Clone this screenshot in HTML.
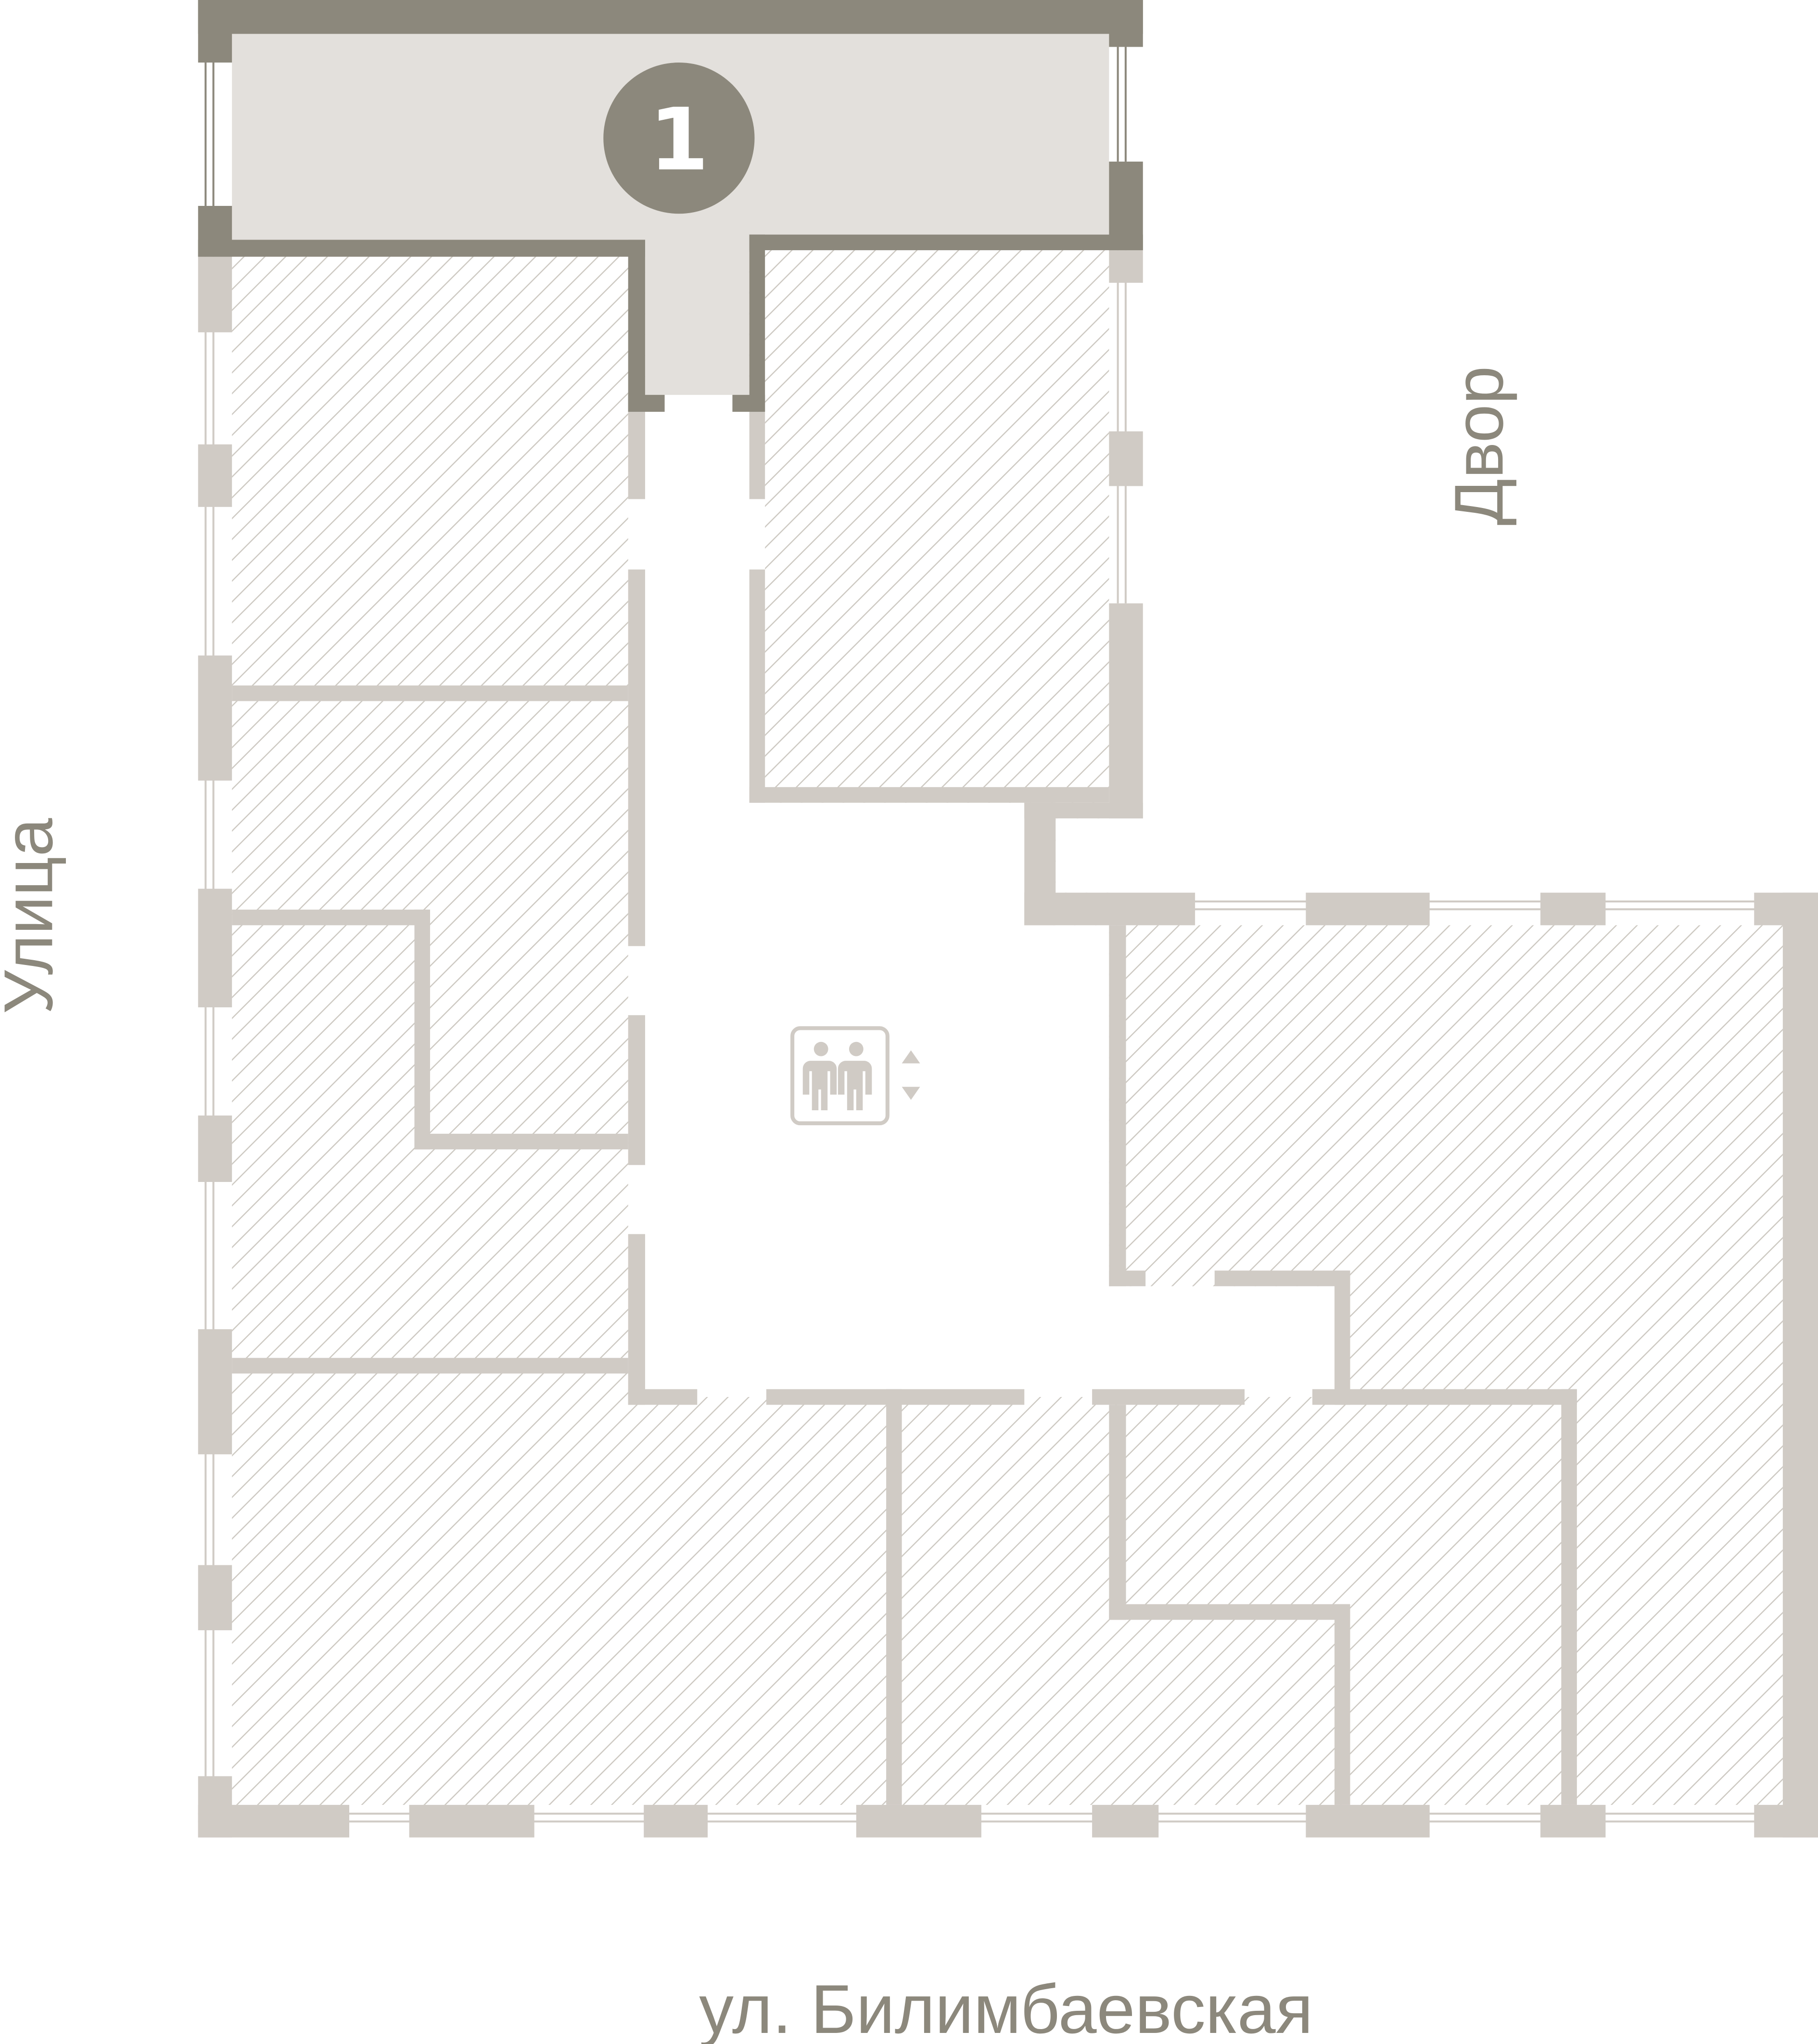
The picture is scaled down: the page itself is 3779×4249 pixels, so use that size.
<!DOCTYPE html>
<html><head><meta charset="utf-8"><style>
html,body{margin:0;padding:0;background:#fff;}
svg{display:block;}
</style></head><body>
<svg width="3779" height="4249" viewBox="0 0 1395 1568.5" preserveAspectRatio="none" xmlns="http://www.w3.org/2000/svg">
<defs>
<pattern id="h" patternUnits="userSpaceOnUse" width="11.3" height="11.3" patternTransform="rotate(45)">
<line x1="0" y1="-1" x2="0" y2="13" stroke="#cdc9c2" stroke-width="1.8"/>
</pattern>
</defs>
<rect width="1395" height="1568.5" fill="#fff"/>
<rect x="178" y="192" width="673" height="1193" fill="url(#h)"/>
<rect x="851" y="710" width="517" height="675" fill="url(#h)"/>
<polygon points="482,300 587,300 587,616 798,616 798,710 851,710 851,987 1030,987 1030,1072 482,1072" fill="#fff"/>
<rect x="810" y="628" width="67" height="57" fill="#fff"/>
<g fill="#d0cbc5">
<rect x="157" y="197" width="1.5" height="1188"/><rect x="163" y="197" width="1.5" height="1188"/>
<rect x="152" y="197" width="26" height="58"/><rect x="152" y="341" width="26" height="48"/>
<rect x="152" y="503" width="26" height="96"/><rect x="152" y="682" width="26" height="91"/>
<rect x="152" y="856" width="26" height="51"/><rect x="152" y="1020" width="26" height="96"/>
<rect x="152" y="1201" width="26" height="50"/><rect x="152" y="1363" width="26" height="47"/>
<rect x="152" y="1391" width="1243" height="1.5"/><rect x="152" y="1397" width="1243" height="1.5"/>
<rect x="152" y="1385" width="116" height="25"/><rect x="314" y="1385" width="96" height="25"/>
<rect x="494" y="1385" width="49" height="25"/><rect x="657" y="1385" width="96" height="25"/>
<rect x="838" y="1385" width="51" height="25"/><rect x="1002" y="1385" width="95" height="25"/>
<rect x="1182" y="1385" width="50" height="25"/><rect x="1346" y="1385" width="49" height="25"/>
<rect x="1368" y="685" width="27" height="725"/>
<rect x="810" y="691" width="558" height="1.5"/><rect x="810" y="697" width="558" height="1.5"/>
<rect x="786" y="685" width="131" height="25"/><rect x="1002" y="685" width="95" height="25"/>
<rect x="1182" y="685" width="50" height="25"/><rect x="1346" y="685" width="49" height="25"/>
<rect x="857" y="192" width="1.5" height="271"/><rect x="863" y="192" width="1.5" height="271"/>
<rect x="851" y="192" width="26" height="25"/><rect x="851" y="331" width="26" height="42"/>
<rect x="851" y="463" width="26" height="165"/>
<rect x="786" y="616" width="91" height="12"/><rect x="786" y="616" width="24" height="94"/>
<rect x="482" y="316" width="13" height="67"/><rect x="482" y="437" width="13" height="289"/>
<rect x="482" y="779" width="13" height="115"/><rect x="482" y="947" width="13" height="131"/>
<rect x="575" y="316" width="12" height="67"/><rect x="575" y="437" width="12" height="179"/>
<rect x="575" y="604" width="276" height="12"/>
<rect x="178" y="526" width="304" height="12"/>
<rect x="178" y="698" width="152" height="12"/><rect x="318" y="698" width="12" height="184"/>
<rect x="318" y="870" width="164" height="12"/>
<rect x="178" y="1042" width="304" height="12"/>
<rect x="482" y="1066" width="53" height="12"/><rect x="588" y="1066" width="198" height="12"/>
<rect x="838" y="1066" width="117" height="12"/><rect x="1007" y="1066" width="203" height="12"/>
<rect x="680" y="1066" width="12" height="319"/>
<rect x="851" y="710" width="13" height="277"/><rect x="851" y="975" width="28" height="12"/>
<rect x="932" y="975" width="104" height="12"/><rect x="1024" y="975" width="12" height="103"/>
<rect x="851" y="1078" width="13" height="165"/><rect x="851" y="1231" width="185" height="12"/>
<rect x="1024" y="1231" width="12" height="154"/>
<rect x="1198" y="1066" width="12" height="319"/>
</g>
<polygon points="178,26 851,26 851,180 575,180 575,303 495,303 495,184 178,184" fill="#e3e0dc"/>
<g fill="#8c887c">
<rect x="152" y="0" width="725" height="26"/>
<rect x="152" y="0" width="26" height="48"/><rect x="152" y="158" width="26" height="39"/>
<rect x="157" y="48" width="1.5" height="110"/><rect x="163" y="48" width="1.5" height="110"/>
<rect x="851" y="0" width="26" height="36"/><rect x="851" y="124" width="26" height="68"/>
<rect x="857" y="36" width="1.5" height="88"/><rect x="863" y="36" width="1.5" height="88"/>
<rect x="152" y="184" width="343" height="13"/><rect x="482" y="184" width="13" height="132"/>
<rect x="482" y="303" width="28" height="13"/>
<rect x="575" y="180" width="302" height="12"/><rect x="575" y="180" width="12" height="136"/>
<rect x="562" y="303" width="25" height="13"/>
<circle cx="521" cy="106" r="58"/>
</g>
<text x="521" y="130" text-anchor="middle" font-family="DejaVu Sans, sans-serif" font-weight="bold" font-size="66" fill="#fff">1</text>
<g fill="#d0cbc5">
<rect x="608" y="789" width="73" height="73" rx="6" fill="none" stroke="#d0cbc5" stroke-width="3"/>
<circle cx="630" cy="805" r="5.5"/><circle cx="657" cy="805" r="5.5"/>
<path d="M621,814 h18 a6,6 0 0 1 6,6 v20 h-5 v-18 h-2 v30 h-5 v-16 h-2 v16 h-5 v-30 h-2 v18 h-5 v-20 a6,6 0 0 1 6,-6z" transform="translate(-3,0)"/>
<path d="M621,814 h18 a6,6 0 0 1 6,6 v20 h-5 v-18 h-2 v30 h-5 v-16 h-2 v16 h-5 v-30 h-2 v18 h-5 v-20 a6,6 0 0 1 6,-6z" transform="translate(24,0)"/>
<polygon points="699,806 692,816 706,816"/>
<polygon points="692,834 706,834 699,844"/>
</g>
<g font-family="Liberation Sans, DejaVu Sans, sans-serif" fill="#8c887c" font-size="53">
<text transform="translate(1153,342) rotate(-90)" text-anchor="middle">Двор</text>
<text transform="translate(40,703) rotate(-90)" text-anchor="middle">Улица</text>
<text x="772" y="1560" text-anchor="middle">ул. Билимбаевская</text>
</g>
</svg>
</body></html>
